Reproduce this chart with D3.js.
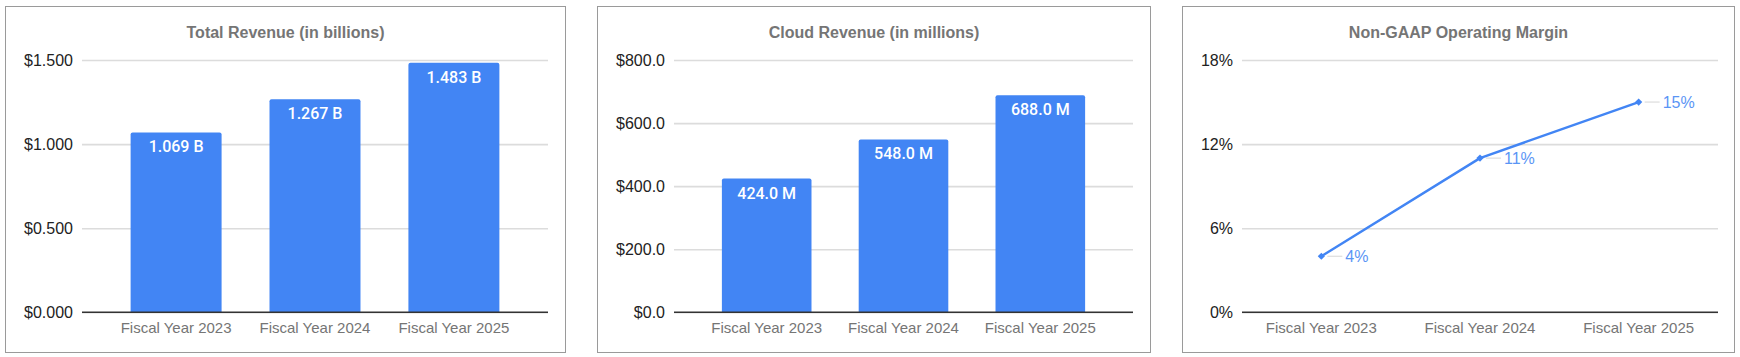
<!DOCTYPE html>
<html>
<head>
<meta charset="utf-8">
<script src="https://cdn.jsdelivr.net/npm/d3@7"></script>
<style>
  html, body { margin: 0; padding: 0; background: #fff; }
  svg { display: block; }
</style>
</head>
<body>
<svg id="chart" width="1740" height="357"></svg>
<script>
// ---- data ----
const categories = ["Fiscal Year 2023", "Fiscal Year 2024", "Fiscal Year 2025"];
const totalRevenue = [1.069, 1.267, 1.483];
const cloudRevenue = [424.0, 548.0, 688.0];
const operatingMargin = [4, 11, 15];
const totalRevenueTicks = [0, 0.5, 1.0, 1.5];
const cloudRevenueTicks = [0, 200, 400, 600, 800];
const marginTicks = [0, 6, 12, 18];
const titles = ["Total Revenue (in billions)", "Cloud Revenue (in millions)", "Non-GAAP Operating Margin"];

// ---- styling / layout ----
const BLUE = "#4285f4";
const LABEL_BLUE = "#5a95f5";
const FONT = "Arial, 'Liberation Sans', sans-serif";
const svg = d3.select("#chart");

const panels = [
  { box: [5.5, 6.5, 560, 346], plot: [82, 548], type: "bar", values: totalRevenue, ticks: totalRevenueTicks,
    tickFmt: d => "$" + d3.format(".3f")(d), labelFmt: d => d3.format(".3f")(d) + " B", title: titles[0] },
  { box: [597.5, 6.5, 553, 346], plot: [674, 1133], type: "bar", values: cloudRevenue, ticks: cloudRevenueTicks,
    tickFmt: d => "$" + d3.format(".1f")(d), labelFmt: d => d3.format(".1f")(d) + " M", title: titles[1] },
  { box: [1182.5, 6.5, 552, 346], plot: [1242, 1718], type: "line", values: operatingMargin, ticks: marginTicks,
    tickFmt: d => d + "%", labelFmt: d => d + "%", title: titles[2] }
];
const plotTop = 60, plotBottom = 312.3;

panels.forEach(p => {
  const g = svg.append("g");
  const [bx, by, bw, bh] = p.box;
  g.append("rect").attr("x", bx).attr("y", by).attr("width", bw).attr("height", bh)
    .attr("fill", "#fff").attr("stroke", "#9a9a9a").attr("stroke-width", 1);

  g.append("text").attr("x", bx + bw / 2).attr("y", 37.5)
    .attr("text-anchor", "middle").attr("font-family", FONT).attr("font-size", 16)
    .attr("font-weight", "bold").attr("fill", "#757575").text(p.title);

  const y = d3.scaleLinear().domain([0, d3.max(p.ticks)]).range([plotBottom, plotTop]);
  const [x0, x1] = p.plot;

  // y axis with gridlines
  const yAxis = d3.axisLeft(y).tickValues(p.ticks).tickFormat(p.tickFmt)
    .tickSize(-(x1 - x0)).tickPadding(9);
  const ya = g.append("g").attr("transform", `translate(${x0},0)`).call(yAxis);
  ya.select(".domain").remove();
  ya.selectAll(".tick line").attr("stroke", "#dcdcdc").attr("stroke-width", 1.6);
  ya.selectAll(".tick text").attr("font-family", FONT).attr("font-size", 16).attr("fill", "#222");

  let xPos, bandW = 0;
  if (p.type === "bar") {
    const x = d3.scaleBand().domain(categories).range([x0, x1]).paddingInner(0.345).paddingOuter(0.35);
    xPos = c => x(c) + x.bandwidth() / 2;
    bandW = x.bandwidth();
    g.append("g").selectAll("path").data(categories).join("path")
      .attr("fill", BLUE)
      .attr("d", (c, i) => {
        const left = x(c), w = x.bandwidth(), top = y(p.values[i]), bot = y(0), r = 2;
        return `M${left},${bot}V${top + r}Q${left},${top} ${left + r},${top}H${left + w - r}Q${left + w},${top} ${left + w},${top + r}V${bot}Z`;
      });
    g.append("g").selectAll("text").data(categories).join("text")
      .attr("x", c => xPos(c)).attr("y", (c, i) => y(p.values[i]) + 20)
      .attr("text-anchor", "middle").attr("font-family", "Roboto, Arial, sans-serif")
      .attr("font-size", 16).attr("font-weight", 500).attr("fill", "#fff")
      .text((c, i) => p.labelFmt(p.values[i]));
  } else {
    const x = d3.scalePoint().domain(categories).range([x0, x1]).padding(0.5);
    xPos = c => x(c);
    // leader lines
    g.append("g").selectAll("line").data(categories).join("line")
      .attr("x1", c => x(c) + 6).attr("x2", c => x(c) + 21)
      .attr("y1", (c, i) => y(p.values[i])).attr("y2", (c, i) => y(p.values[i]))
      .attr("stroke", "#d6d6d6").attr("stroke-width", 1);
    const line = d3.line().x((v, i) => x(categories[i])).y(v => y(v));
    g.append("path").datum(p.values).attr("d", line)
      .attr("fill", "none").attr("stroke", BLUE).attr("stroke-width", 2.4)
      .attr("stroke-linejoin", "round").attr("stroke-linecap", "round");
    g.append("g").selectAll("path").data(categories).join("path")
      .attr("d", d3.symbol(d3.symbolSquare, 26))
      .attr("transform", (c, i) => `translate(${x(c)},${y(p.values[i])}) rotate(45)`)
      .attr("fill", BLUE);
    g.append("g").selectAll("text").data(categories).join("text")
      .attr("x", c => x(c) + 24).attr("y", (c, i) => y(p.values[i]))
      .attr("dy", "0.35em").attr("font-family", FONT).attr("font-size", 16)
      .attr("fill", LABEL_BLUE).text((c, i) => p.labelFmt(p.values[i]));
  }

  // baseline
  g.append("line").attr("x1", x0).attr("x2", x1).attr("y1", y(0)).attr("y2", y(0))
    .attr("stroke", "#333").attr("stroke-width", 1.5);
  if (p.type === "bar") g.select("g:nth-of-type(2)").raise();

  // x axis labels
  const xa = g.append("g").attr("transform", `translate(0,${plotBottom})`);
  xa.selectAll("text").data(categories).join("text")
    .attr("x", c => xPos(c)).attr("y", 21)
    .attr("text-anchor", "middle").attr("font-family", FONT).attr("font-size", 15)
    .attr("fill", "#757575").text(c => c);
});
</script>
</body>
</html>
